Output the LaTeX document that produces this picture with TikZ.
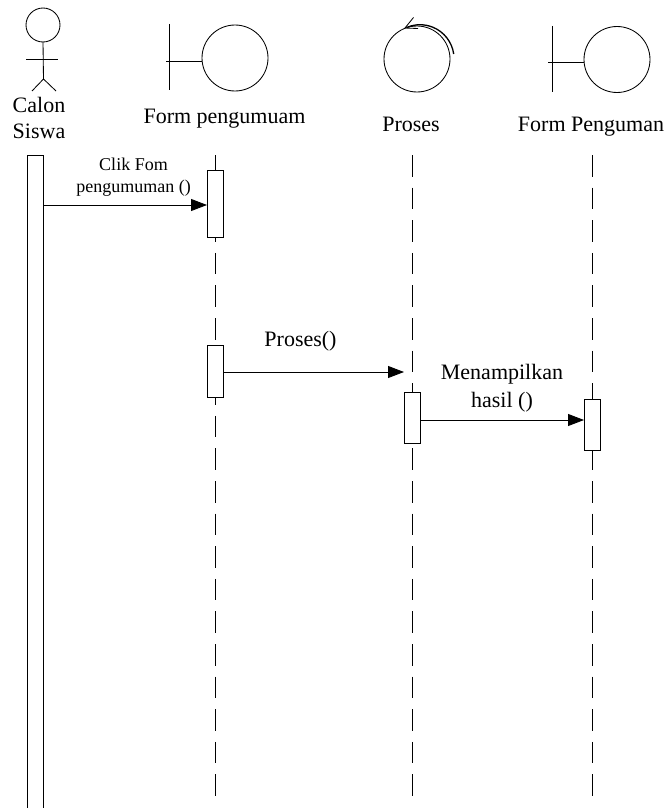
\documentclass[tikz,border=0pt]{standalone}
\usepackage{fontspec}
\setmainfont{Liberation Serif}
\usetikzlibrary{arrows.meta,positioning}
\tikzset{
    big/.style={font=\fontsize{22}{26}\selectfont,align=center,anchor=base,inner sep=0pt},
    small/.style={font=\fontsize{18}{22}\selectfont,align=center,anchor=base,inner sep=0pt},
    ball/.style={draw,circle,minimum size=66pt,inner sep=0pt,outer sep=0pt},
    head/.style={draw,circle,minimum size=34pt,inner sep=0pt,outer sep=0pt},
    bar/.style={draw,fill=white,minimum width=16pt,inner sep=0pt,outer sep=0pt},
    life/.style={dash pattern=on 21.6pt off 11pt},
    msg/.style={-{Triangle[length=16pt,width=12pt]}}
}
\begin{document}
\begin{tikzpicture}[x=1pt,y=-1pt,line width=0.85pt]
                \useasboundingbox (0,0) rectangle (666,808);
                % actor
                \node[head] (head) at (43,25) {};
                \coordinate (hip) at (43.5,79);
                \coordinate (arm_l) at (26,59);
                \coordinate (arm_r) at (57.5,59);
                \coordinate (leg_l) at (32,91);
                \coordinate (leg_r) at (56,91);
                \draw (head.south) -- (hip);
                \draw (arm_l) -- (arm_r);
                \draw (leg_l) -- (hip) -- (leg_r);
                \node[big] (calon) at (39,112) {Calon};
                \node[big] (siswa) at (39,138) {Siswa};
                % form pengumuam
                \node[ball] (form_1) at (235,58) {};
                \coordinate (bl_1) at (166,61);
                \coordinate (up_1) at (169,24);
                \coordinate (dn_1) at (169,90);
                \draw (bl_1) -- (form_1.west |- bl_1);
                \draw (up_1) -- (dn_1);
                \node[big] (lab_1) at (224.5,123) {Form pengumuam};
                % proses
                \node[ball] (proc) at (417,59) {};
                \coordinate (ar_a) at (453.7,54);
                \coordinate (ar_b) at (405,28);
                \coordinate (ar_c) at (413.5,17.5);
                \coordinate (ar_d) at (418,28.5);
                \draw[line width=1.3pt] (ar_a) arc[start angle=8,end angle=112,radius=34pt];
                \draw (ar_c) -- (ar_b) -- (ar_d);
                \node[big] (lab_2) at (411,131) {Proses};
                % form penguman
                \node[ball] (form_2) at (617,59.5) {};
                \coordinate (bl_2) at (548,62);
                \coordinate (up_2) at (552,26);
                \coordinate (dn_2) at (552,92);
                \draw (bl_2) -- (form_2.west |- bl_2);
                \draw (up_2) -- (dn_2);
                \node[big] (lab_3) at (591,131) {Form Penguman};
                % lifelines
                \coordinate (top_1) at (215,155);
                \coordinate (top_2) at (412,155);
                \coordinate (top_3) at (592,155);
                \coordinate (end_1) at (215,798);
                \coordinate (end_2) at (412,798);
                \coordinate (end_3) at (592,798);
                \foreach \i in {1,2,3}
                    \draw[life] (top_\i) -- (end_\i);
                % bars
                \node[bar,minimum height=660pt] (a_0) at (35,485.5) {};
                \node[bar,minimum height=67pt] (a_1) at (215,203.5) {};
                \node[bar,minimum height=52pt] (a_2) at (215,371) {};
                \node[bar,minimum height=51pt] (a_3) at (412,417.5) {};
                \node[bar,minimum height=51pt] (a_4) at (592,424.5) {};
                % messages
                \coordinate (m_1) at (0,205);
                \coordinate (m_2) at (0,372);
                \coordinate (m_3) at (0,420);
                \draw[msg] (a_0.east |- m_1) -- (a_1.west |- m_1);
                \draw[msg] (a_2.east |- m_2) -- (a_3.west |- m_2);
                \draw[msg] (a_3.east |- m_3) -- (a_4.west |- m_3);
                \node[small] (clik) at (133.5,170) {Clik Fom};
                \node[small] (peng) at (133.5,192) {pengumuman ()};
                \node[big] (pros) at (300.5,346) {Proses()};
                \node[big] (mena) at (502,379) {Menampilkan};
                \node[big] (hasil) at (502,407) {hasil ()};
            \end{tikzpicture}
\end{document}
